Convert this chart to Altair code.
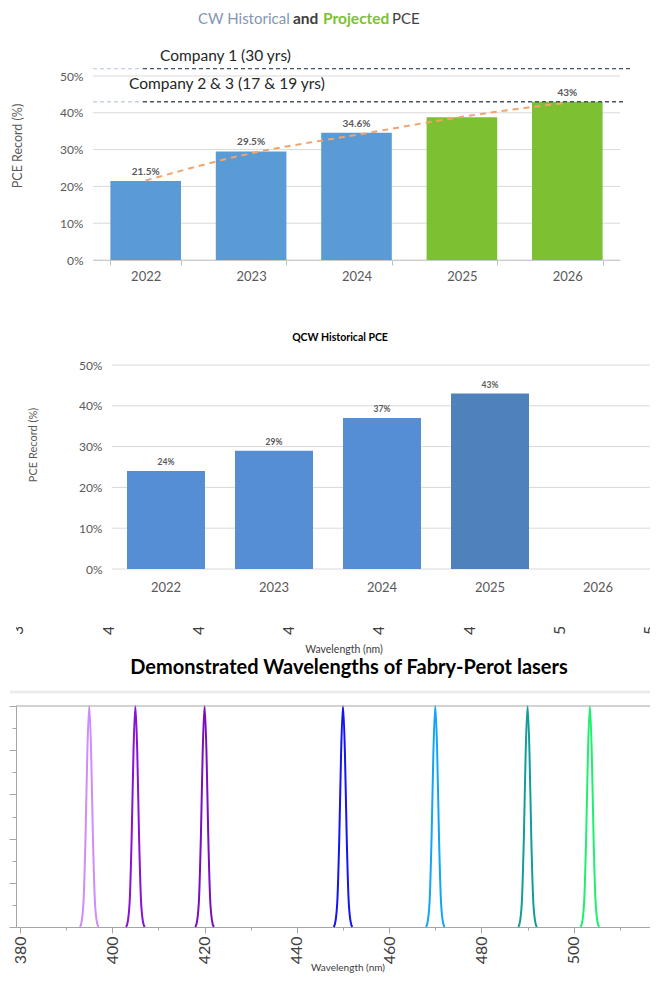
import altair as alt
import pandas as pd

FONT = "Lato"
W = 644

# ---------------- data: CW panel ----------------
years = ["2022", "2023", "2024", "2025", "2026"]
cw_pce = [21.5, 29.5, 34.6, 38.8, 43.0]
cw_status = ["Historical", "Historical", "Historical", "Projected", "Projected"]
cw_labels = ["21.5%", "29.5%", "34.6%", "", "43%"]
cw_trend = [21.6, 29.0, 34.0, 38.9, 42.8]
company_names = ["Company 1 (30 yrs)", "Company 2 & 3 (17 & 19 yrs)"]
company_records = [52, 43]
pct_ticks = [0, 10, 20, 30, 40, 50]
title_parts = ["CW Historical", "and", "Projected", "PCE"]

# ---------------- data: QCW panel ----------------
qcw_years = ["2022", "2023", "2024", "2025"]
qcw_pce = [24, 29, 37, 43]
qcw_status = ["Historical", "Historical", "Historical", "Latest"]
qcw_labels = ["24%", "29%", "37%", "43%"]

# ---------------- data: Fabry-Perot panel ----------------
peak_nm = [395, 405, 420, 450, 470, 490, 503.5]
peak_names = ["395 nm", "405 nm", "420 nm", "450 nm", "470 nm", "490 nm", "503.5 nm"]
peak_colors = ["#cf8cff", "#8a12d6", "#7b0fbf", "#1414f5", "#12a5f7", "#149c9c", "#1ef06e"]
profile_offset = [-2.0, -1.6, -1.2, -0.8, -0.4, 0.0, 0.4, 0.8, 1.2, 1.6, 2.0]
profile_level = [0.0, 0.03, 0.13, 0.41, 0.80, 1.0, 0.80, 0.41, 0.13, 0.03, 0.0]
nm_ticks = [380, 390, 400, 410, 420, 430, 440, 450, 460, 470, 480, 490, 500, 510]
nm_cut_labels = [380, 400, 420, 440, 460, 480, 500, 520]
level_ticks = [0.0, 0.1, 0.2, 0.3, 0.4, 0.5, 0.6, 0.7, 0.8, 0.9, 1.0]


def one_row():
    return pd.DataFrame({"k": [0]})


# ================= Panel 1: CW =================
P1H = 184
cw = pd.DataFrame({"year": years, "pce": cw_pce, "status": cw_status,
                   "label": cw_labels, "trend": cw_trend})
p1_xs = alt.Scale(domain=years, range=[77, 604], paddingInner=0.33, paddingOuter=0.165)
p1_ys = alt.Scale(domain=[0, 50], nice=False)
ax1x = alt.Axis(title=None, labelAngle=0, labelFontSize=13, labelColor="#595959",
                labelFont=FONT, labelPadding=5, domainColor="#bfbfbf", tickColor="#bfbfbf",
                tickSize=5, tickBand="extent")
ax1y = alt.Axis(values=pct_ticks, labelExpr="datum.value + '%'", grid=False, domain=False,
                ticks=False, labelPadding=4, offset=-71, labelFontSize=12,
                labelColor="#595959", title=None, labelFont=FONT)
X1 = alt.X("year:N", scale=p1_xs, axis=ax1x)

grid1 = alt.Chart(pd.DataFrame({"v": pct_ticks})).mark_rule(color="#d9d9d9").encode(
    y=alt.Y("v:Q", scale=p1_ys, axis=ax1y), x=alt.value(77), x2=alt.value(604))

bars1 = alt.Chart(cw).mark_bar().encode(
    x=X1,
    y=alt.Y("pce:Q", scale=p1_ys, axis=ax1y),
    color=alt.Color("status:N", scale=alt.Scale(domain=["Historical", "Projected"],
                                                range=["#5b9bd5", "#7dc132"]), legend=None))

trend1 = alt.Chart(cw).mark_line(color="#f4a46a", strokeDash=[6, 5], strokeWidth=2,
                                 interpolate="monotone").encode(
    x=X1, y=alt.Y("trend:Q", scale=p1_ys, axis=ax1y))

labels1 = alt.Chart(cw).mark_text(dy=-9, fontSize=10, fontWeight="bold", color="#595959").encode(
    x=X1, y=alt.Y("pce:Q", scale=p1_ys, axis=ax1y), text="label:N")

comp = pd.DataFrame({"name": company_names, "level": company_records})
comp_layers = []
for i, (end, tx, ty) in enumerate([(616, 144, -20), (608, 113, 8)]):
    d = comp.iloc[[i]]
    comp_layers.append(alt.Chart(d).mark_rule(color="#c8d2e0", strokeDash=[4, 3], strokeWidth=1.3).encode(
        y=alt.Y("level:Q", scale=p1_ys, axis=ax1y), x=alt.value(77), x2=alt.value(127)))
    comp_layers.append(alt.Chart(d).mark_rule(color="#44546a", strokeDash=[4, 3], strokeWidth=1.3).encode(
        y=alt.Y("level:Q", scale=p1_ys, axis=ax1y), x=alt.value(127), x2=alt.value(end)))
    comp_layers.append(alt.Chart(d).mark_text(align="left", baseline="middle", fontSize=15.5,
                                              color="#262626").encode(
        text="name:N", x=alt.value(tx), y=alt.value(ty)))

title_styles = [("#8497b0", "normal", 182, 15), ("#404040", "bold", 277, 15.5),
                ("#7dc132", "bold", 307, 15.5), ("#404040", "normal", 376, 15)]
title_layers = []
for part, (col, wt, tx, fs) in zip(title_parts, title_styles):
    title_layers.append(alt.Chart(one_row()).mark_text(
        text=part, align="left", baseline="middle", fontSize=fs, fontWeight=wt, color=col).encode(
        x=alt.value(tx), y=alt.value(-57)))

ytitle1 = alt.Chart(one_row()).mark_text(text="PCE Record (%)", angle=270, fontSize=12.5,
                                         color="#595959", baseline="middle", align="center").encode(
    x=alt.value(2), y=alt.value(70))

panel1 = alt.layer(grid1, bars1, trend1, labels1, *comp_layers, *title_layers, ytitle1).properties(
    width=W, height=P1H)

# ================= Panel 2: QCW =================
P2H = 204
qcw = pd.DataFrame({"year": qcw_years, "pce": qcw_pce, "status": qcw_status, "label": qcw_labels})
p2_xs = alt.Scale(domain=years, range=[96, 636], paddingInner=0.278, paddingOuter=0.139)
p2_ys = alt.Scale(domain=[0, 50], nice=False)
ax2x = alt.Axis(title=None, labelAngle=0, labelFontSize=13, labelColor="#595959",
                labelFont=FONT, labelPadding=12, domain=False, ticks=False)
ax2y = alt.Axis(values=pct_ticks, labelExpr="datum.value + '%'", grid=False, domain=False,
                ticks=False, labelPadding=4, offset=-90, labelFontSize=12,
                labelColor="#595959", title=None, labelFont=FONT)
X2 = alt.X("year:N", scale=p2_xs, axis=ax2x)

grid2 = alt.Chart(pd.DataFrame({"v": pct_ticks})).mark_rule(color="#d9d9d9").encode(
    y=alt.Y("v:Q", scale=p2_ys, axis=ax2y), x=alt.value(96), x2=alt.value(634))

bars2 = alt.Chart(qcw).mark_bar().encode(
    x=X2,
    y=alt.Y("pce:Q", scale=p2_ys, axis=ax2y),
    color=alt.Color("status:N", scale=alt.Scale(domain=["Historical", "Latest"],
                                                range=["#558ed5", "#4f81bd"]), legend=None))

labels2 = alt.Chart(qcw).mark_text(dy=-9, fontSize=8.5, fontWeight="bold", color="#595959").encode(
    x=X2, y=alt.Y("pce:Q", scale=p2_ys, axis=ax2y), text="label:N")

title2 = alt.Chart(one_row()).mark_text(text="QCW  Historical PCE", fontSize=10.5, fontWeight="bold",
                                        color="#000000", baseline="middle").encode(
    x=alt.value(324), y=alt.value(-27))

ytitle2 = alt.Chart(one_row()).mark_text(text="PCE Record (%)", angle=270, fontSize=11,
                                         color="#595959", baseline="middle", align="center").encode(
    x=alt.value(18), y=alt.value(80))

panel2 = alt.layer(grid2, bars2, labels2, title2, ytitle2).properties(width=W, height=P2H)

# ================= Strip: cut labels + titles =================
nm_domain = [379.13, 518.7]
p3_xs = alt.Scale(domain=nm_domain, nice=False, zero=False)
cut_xs = alt.Scale(domain=[379.5, 522.2], nice=False, zero=False)
cut = pd.DataFrame({"nm": nm_cut_labels, "label": [str(v) for v in nm_cut_labels]})

cut_labels = alt.Chart(cut).mark_text(angle=270, align="left", baseline="middle", clip=True,
                                      fontSize=16, color="#404040").encode(
    x=alt.X("nm:Q", scale=cut_xs, axis=None), y=alt.value(8), text="label:N")

wl_top = alt.Chart(one_row()).mark_text(text="Wavelength (nm)", fontSize=10.5, color="#404040",
                                        baseline="middle").encode(x=alt.value(328), y=alt.value(23))
title3 = alt.Chart(one_row()).mark_text(text="Demonstrated Wavelengths of Fabry-Perot lasers",
                                        fontSize=20, fontWeight="bold", color="#000000",
                                        baseline="middle").encode(x=alt.value(333), y=alt.value(41))
sep = alt.Chart(one_row()).mark_rule(color="#ececec", strokeWidth=3).encode(
    x=alt.value(-6), x2=alt.value(W - 2), y=alt.value(65))

strip = alt.layer(cut_labels, wl_top, title3, sep).properties(width=W, height=79)

# ================= Panel 3: peaks =================
P3H = 221
rows = []
for c, name in zip(peak_nm, peak_names):
    for off, lv in zip(profile_offset, profile_level):
        rows.append({"peak": name, "wl": c + off, "level": lv})
peaks_df = pd.DataFrame(rows)

peaks = alt.Chart(peaks_df).mark_line(strokeWidth=2, interpolate="monotone").encode(
    x=alt.X("wl:Q", scale=p3_xs, axis=alt.Axis(
        values=nm_ticks, labelExpr="datum.value % 20 === 0 ? datum.label : ''",
        tickSize={"condition": {"test": "datum.value % 20 === 0", "value": 6}, "value": 3},
        labelAngle=270, labelFontSize=16, labelColor="#404040", labelPadding=3,
        domainColor="#a6a6a6", tickColor="#a6a6a6", grid=False, title=None,
        labelOverlap=False, labelFont=FONT)),
    y=alt.Y("level:Q", scale=alt.Scale(domain=[0, 1], nice=False), axis=alt.Axis(
        values=level_ticks, labels=False,
        tickSize={"condition": {"test": "round(datum.value * 10) % 2 === 0", "value": 7}, "value": 4},
        domainColor="#a6a6a6", tickColor="#a6a6a6", grid=False, title=None)),
    color=alt.Color("peak:N", scale=alt.Scale(domain=peak_names, range=peak_colors), legend=None))

top_border = alt.Chart(one_row()).mark_rule(color="#a6a6a6").encode(
    x=alt.value(0), x2=alt.value(W - 1), y=alt.value(0))

wl_bottom = alt.Chart(one_row()).mark_text(text="Wavelength (nm)", fontSize=10, color="#404040",
                                           baseline="middle").encode(x=alt.value(332), y=alt.value(262))

panel3 = alt.layer(peaks, top_border, wl_bottom).properties(width=W, height=P3H)


def spacer(h):
    return alt.Chart(one_row()).mark_rule(opacity=0).encode(y=alt.value(0)).properties(width=10, height=h)


chart = alt.vconcat(panel1, spacer(105), panel2, spacer(58), strip, panel3,
                    spacing=0, bounds="flush").resolve_scale(color="independent").properties(
    padding={"left": 0, "top": 4, "right": -10, "bottom": 0}
).configure(font=FONT).configure_view(stroke=None)

chart.save("out.html", embed_options={"renderer": "svg", "actions": False})
